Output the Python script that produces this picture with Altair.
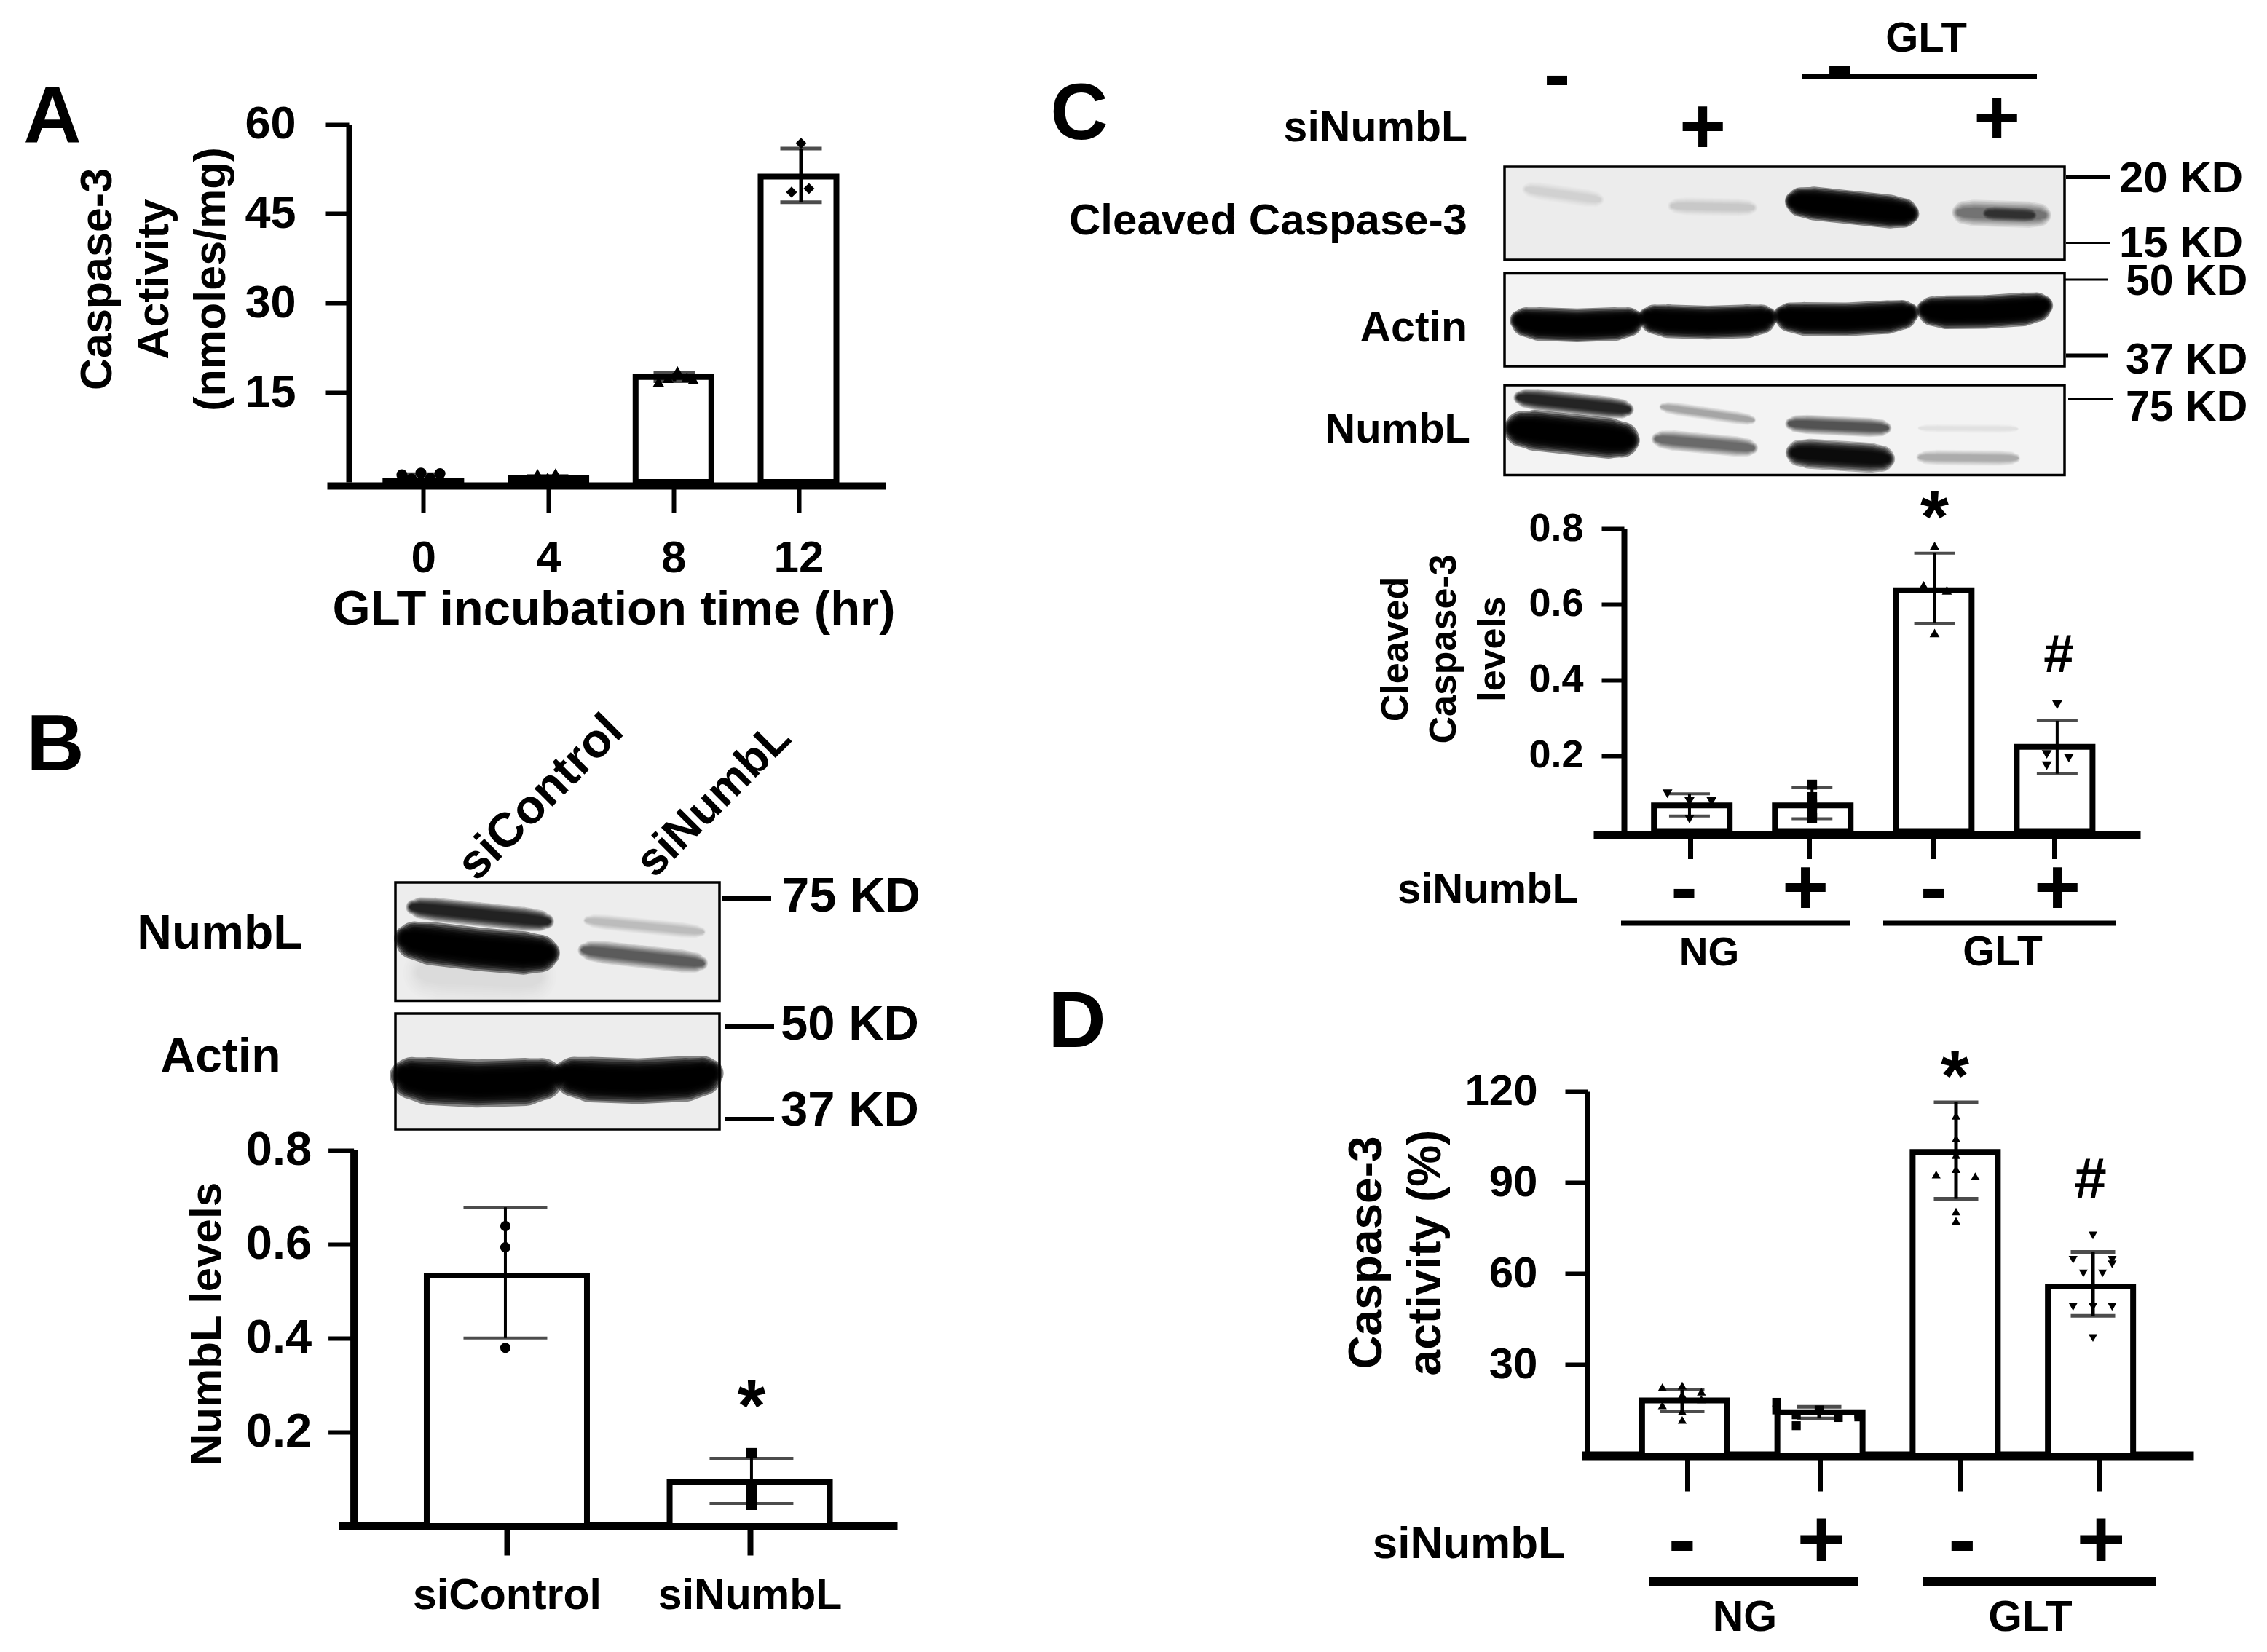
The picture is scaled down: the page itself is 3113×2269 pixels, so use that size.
import altair as alt
import pandas as pd

FONT = "Liberation Sans"
W, H = 3097, 2250
M = 8  # page margin

# ---------- Panel A ----------
A_TIME = [0, 4, 8, 12]
A_MEAN = [0.2, 0.6, 17.6, 51.2]
A_LOW = [0.3, 0.4, 16.9, 46.9]
A_HIGH = [1.3, 1.0, 18.3, 55.9]
A_SHAPE = ["circle", "triangle-up", "triangle-up", "diamond"]
A_PT_G = [0, 0, 0, 0, 0, 1, 1, 1, 2, 2, 2, 2, 2, 3, 3, 3]
A_PT_DX = [-0.6, 0, 0.6, -0.3, 0.3, -0.32, 0.25, 0, -0.5, -0.2, 0.1, 0.4, 0.6, 0, -0.3, 0.25]
A_PT_V = [1.2, 1.5, 1.4, 0.5, 0.6, 1.4, 1.5, 0.8, 16.8, 17.4, 18.6, 17.6, 17.2, 56.8, 48.6, 49.2]

# ---------- Panel B ----------
B_LABEL = ["siControl", "siNumbL"]
B_MEAN = [0.533, 0.093]
B_LOW = [0.40, 0.048]
B_HIGH = [0.678, 0.144]
B_SHAPE = ["circle", "square"]
B_PT_G = [0, 0, 0, 1, 1, 1, 1]
B_PT_DX = [0, 0, 0, 0, 0, 0, 0]
B_PT_V = [0.638, 0.593, 0.379, 0.155, 0.077, 0.057, 0.045]

# ---------- Panel C ----------
C_MEAN = [0.068, 0.068, 0.637, 0.223]
C_LOW = [0.04, 0.033, 0.55, 0.152]
C_HIGH = [0.099, 0.115, 0.735, 0.292]
C_SHAPE = ["triangle-down", "square", "triangle-up", "triangle-down"]
C_TICKS = [-0.015, 0.97, 1.99, 3]
C_PT_G = [0, 0, 0, 0, 1, 1, 1, 1, 1, 2, 2, 2, 2, 3, 3, 3, 3]
C_PT_DX = [-0.18, 0, 0.18, 0, 0, 0, 0, 0, 0, 0, -0.09, 0.1, 0, 0, -0.085, -0.085, 0.095]
C_PT_V = [0.099, 0.078, 0.078, 0.032, 0.123, 0.09, 0.07, 0.05, 0.035, 0.754, 0.65, 0.637, 0.524, 0.334, 0.203, 0.173, 0.193]

# ---------- Panel D ----------
D_MEAN = [18.1, 14.2, 100, 55.7]
D_LOW = [14.5, 12.2, 84.6, 46]
D_HIGH = [21.7, 16, 116.4, 67.1]
D_SHAPE = ["triangle-up", "square", "triangle-up", "triangle-down"]
D_TICKS = [0.02, 1, 2.04, 3.06]
D_PT_G = [0] * 8 + [1] * 8 + [2] * 8 + [3] * 10
D_PT_DX = [-0.145, 0, 0.14, 0.14, 0, -0.145, 0, 0,
           -0.31, -0.31, -0.167, -0.167, 0, 0.14, 0.29, 0.29,
           0, 0, 0, 0, -0.145, 0.14, 0, 0,
           0, -0.145, 0.14, 0.14, -0.07, 0.07, -0.145, 0, 0.14, 0]
D_PT_V = [22.5, 23, 21, 18.5, 20, 16.5, 14.5, 11.7,
          17.5, 15, 9.8, 13.4, 15, 12.5, 13.6, 12.7,
          112, 104.5, 99, 94.4, 92.6, 92, 80.4, 77.3,
          72.5, 64.5, 64.5, 63, 60, 60, 49, 49, 49, 38.7]

# ---------- Blot bands: x0, y0, x1, y1 (% of membrane), thickness, density, sag ----------
B1_BANDS = [(8, 76, 44, 80, 50, 0.06, 0),
            (4.7, 20.7, 47.5, 33.2, 20, 0.85, 0), (2.8, 47, 47.5, 59.7, 36, 0.995, 3),
            (58.7, 32, 95, 42, 13, 0.2, 0), (57.7, 57, 95, 68.5, 19, 0.6, 0)]
B2_BANDS = [(1.9, 53, 48.4, 54, 40, 0.995, 7), (52, 52, 97.8, 51, 38, 0.995, 7)]
C1_BANDS = [(3.8, 24, 17.1, 35.6, 15, 0.1, 0), (29.8, 42, 44.5, 44, 15, 0.13, 0),
            (51.5, 37, 72.6, 50.5, 28, 0.995, 0), (81, 49, 96.5, 52, 22, 0.5, 0),
            (86, 50, 94.4, 52, 12, 0.55, 0)]
C2_BANDS = [(2.4, 50, 23.5, 50, 28, 0.995, 6), (25.3, 47, 47.3, 47, 28, 0.995, 6),
            (49.4, 45, 72.6, 42, 28, 0.995, 6), (75, 39, 96.5, 34, 28, 0.995, 5)]
C3_BANDS = [(2.4, 13.7, 22.3, 27.3, 18, 0.85, 0), (1.7, 47.8, 22.3, 61.4, 34, 0.995, 0),
            (28, 24, 44.5, 39, 11, 0.3, 0), (27, 59.7, 44.5, 70, 17, 0.55, 0),
            (50.8, 42.7, 68.4, 47.8, 16, 0.65, 0), (51.5, 75, 68.4, 82, 25, 0.95, 0),
            (74, 47.8, 91.6, 48.5, 8, 0.07, 0), (74, 80.2, 91.6, 81.2, 13, 0.27, 0)]

layers = []
ONE = alt.Data(values=[{"k": 0}])


def text(s, x, y, size=60, align="center", angle=0, baseline="middle"):
    layers.append(
        alt.Chart(ONE).mark_text(text=s, font=FONT, fontWeight="bold", fontSize=size, color="black",
                                 align=align, baseline=baseline, angle=angle)
        .encode(x=alt.value(x - M), y=alt.value(y - M))
    )


def seg(x0, x1, y, w):
    layers.append(
        alt.Chart(ONE).mark_rule(color="black", strokeWidth=w)
        .encode(x=alt.value(x0 - M), x2=alt.value(x1 - M), y=alt.value(y - M))
    )


def panel(pos, means, lows, highs, shapes, pg, pdx, pv, xdom, xrange, ydom, yrange, yticks, xticks,
          y_pos, bar_w, bar_sw, cap_w, err_w, pt_size, axis_y, dom_w_x, tick_x, tick_w_x, dom_w_y, tick_y,
          lab_size, lab_pad_y, title, title_size, title_lh, title_x, title_y,
          x_expr=None, xlab_size=60, xlab_pad=30, fmt=None):
    xs = alt.Scale(domain=xdom, range=[v - M for v in xrange], nice=False, zero=False)
    ys = alt.Scale(domain=ydom, range=[v - M for v in yrange], nice=False, zero=False)
    df = pd.DataFrame({"pos": pos, "mean": means, "low": lows, "high": highs})
    x_axis = alt.Axis(
        orient="bottom", offset=axis_y - M - H, values=xticks, grid=False, title=None,
        domainColor="black", domainWidth=dom_w_x, tickColor="black", tickWidth=tick_w_x, tickSize=tick_x,
        labels=x_expr is not None, labelFont=FONT, labelFontWeight="bold", labelFontSize=xlab_size,
        labelColor="black", labelPadding=xlab_pad, labelExpr=x_expr or "datum.label", labelOverlap=False,
        labelFlush=False, labelLimit=1000)
    y_kwargs = {"format": fmt} if fmt else {}
    y_axis = alt.Axis(
        orient="left", offset=-(y_pos - M), values=yticks, grid=False, title=title,
        domainColor="black", domainWidth=dom_w_y, tickColor="black", tickWidth=6, tickSize=tick_y,
        labelFont=FONT, labelFontWeight="bold", labelFontSize=lab_size, labelColor="black",
        labelPadding=lab_pad_y, labelOverlap=False, labelFlush=False,
        titleFont=FONT, titleFontWeight="bold", titleFontSize=title_size, titleColor="black",
        titleLineHeight=title_lh, titleBaseline="middle", titleX=title_x - y_pos, titleY=title_y - M,
        titleAngle=270, titleLimit=2000, **y_kwargs)
    base = alt.Chart(df)
    layers.append(base.mark_bar(orient="vertical", size=bar_w - bar_sw, fill="white", stroke="black",
                                strokeWidth=bar_sw)
                  .encode(x=alt.X("pos:Q", scale=xs, axis=x_axis),
                          y=alt.Y("mean:Q", scale=ys, axis=y_axis, stack=None),
                          y2=alt.Y2(datum=0)))
    layers.append(base.mark_rule(color="black", strokeWidth=err_w)
                  .encode(x=alt.X("pos:Q", scale=xs, axis=None), y=alt.Y("low:Q", scale=ys, axis=None),
                          y2="high:Q"))
    for f in ("low", "high"):
        layers.append(base.mark_tick(orient="horizontal", size=cap_w, thickness=err_w, color="black")
                      .encode(x=alt.X("pos:Q", scale=xs, axis=None), y=alt.Y(f + ":Q", scale=ys, axis=None)))
    pts = pd.DataFrame({"x": [pos[g] + d for g, d in zip(pg, pdx)], "v": pv,
                        "shape": [shapes[g] for g in pg]})
    layers.append(alt.Chart(pts).mark_point(filled=True, color="black", opacity=1, size=pt_size)
                  .encode(x=alt.X("x:Q", scale=xs, axis=None), y=alt.Y("v:Q", scale=ys, axis=None),
                          shape=alt.Shape("shape:N", scale=None)))


def blot(x0, x1, y0, y1, bands, fill):
    xs = alt.Scale(domain=[0, 100], range=[x0 - M, x1 - M], nice=False, zero=False)
    ys = alt.Scale(domain=[0, 100], range=[y0 - M, y1 - M], nice=False, zero=False)
    frame = pd.DataFrame({"a": [0], "b": [100]})
    layers.append(alt.Chart(frame).mark_rect(fill=fill, stroke=None)
                  .encode(x=alt.X("a:Q", scale=xs, axis=None), x2="b:Q",
                          y=alt.Y("a:Q", scale=ys, axis=None), y2="b:Q"))
    rows = []
    widths = (1.65, 1.5, 1.35, 1.2, 1.08, 0.96, 0.84, 0.72, 0.6)
    for i, (bx0, by0, bx1, by1, t, dens, sag) in enumerate(bands):
        a = 1 - (1 - dens) ** (1 / len(widths))
        for j, k in enumerate(widths):
            for u, w, bow in ((0, 0.3, 0), (0.02, 0.62, 0.1), (0.07, 0.88, 0.4), (0.18, 1, 0.75), (0.5, 1, 1),
                              (0.82, 1, 0.75), (0.93, 0.88, 0.4), (0.98, 0.62, 0.1), (1, 0.3, 0)):
                rows.append({"id": f"{i:02d}{j}", "x": bx0 + (bx1 - bx0) * u,
                             "y": by0 + (by1 - by0) * u + sag * bow, "w": t * k * w, "a": a})
    layers.append(alt.Chart(pd.DataFrame(rows)).mark_trail(color="black")
                  .encode(x=alt.X("x:Q", scale=xs, axis=None), y=alt.Y("y:Q", scale=ys, axis=None),
                          size=alt.Size("w:Q", scale=None, legend=None),
                          opacity=alt.Opacity("a:Q", scale=None, legend=None),
                          detail="id:N", order="x:Q"))
    layers.append(alt.Chart(frame).mark_rect(fill=None, stroke="black", strokeWidth=3.5)
                  .encode(x=alt.X("a:Q", scale=xs, axis=None), x2="b:Q",
                          y=alt.Y("a:Q", scale=ys, axis=None), y2="b:Q"))


# ---------- A ----------
panel(A_TIME, A_MEAN, A_LOW, A_HIGH, A_SHAPE, A_PT_G, A_PT_DX, A_PT_V,
      [-2.966, 14.667], [449, 1216], [0, 60], [662, 170.5], [15, 30, 45, 60], A_TIME,
      479, 112, 8, 57, 5, 230, 667, 10, 37, 6, 8, 33, 63, 40,
      ["Caspase-3", "Activity", "(nmoles/mg)"], 61, 78, 134, 383,
      x_expr="datum.label", xlab_size=62, xlab_pad=32)
text("A", 72, 162, 110)
text("GLT incubation time (hr)", 843, 838, 67)

# ---------- B ----------
blot(543, 988, 1212, 1374.5, B1_BANDS, "#ededed")
blot(543, 988, 1392, 1551, B2_BANDS, "#ededed")
text("B", 76, 1025, 110)
text("siControl", 640, 1198, 66, "left", 315)
text("siNumbL", 885, 1194, 63, "left", 315)
text("NumbL", 302, 1283, 66)
text("Actin", 303, 1452, 66)
for xa, xb, yy, ww in ((991, 1059, 1234, 6), (995, 1063, 1410, 6), (995, 1063, 1537, 6)):
    seg(xa, xb, yy, ww)
text("75 KD", 1074, 1232, 67, "left")
text("50 KD", 1072, 1408, 67, "left")
text("37 KD", 1072, 1526, 67, "left")

panel([0, 1], B_MEAN, B_LOW, B_HIGH, B_SHAPE, B_PT_G, B_PT_DX, B_PT_V,
      [-0.6775, 1.592], [465, 1232], [0, 0.8], [2096, 1579.5], [0.2, 0.4, 0.6, 0.8], [0, 1],
      485.6, 228, 8, 115, 4, 200, 2096, 11, 40, 8, 10, 35, 65, 23,
      "NumbL levels", 60, 70, 284, 1818,
      x_expr="['siControl','siNumbL'][datum.value]", xlab_size=59, xlab_pad=26, fmt=".1f")
text("*", 1032, 1935, 100)

# ---------- C ----------
blot(2066, 2835, 229, 357, C1_BANDS, "#ececec")
blot(2066, 2835, 375.6, 503, C2_BANDS, "#f3f3f3")
blot(2066, 2835, 529, 652.6, C3_BANDS, "#f3f3f3")
text("C", 1482, 158, 110)
text("GLT", 2645, 54, 58)
seg(2475, 2797, 105, 8)
text("-", 2138, 106, 110)
text("-", 2526, 93, 110)
text("siNumbL", 2015, 176, 59, "right")
text("+", 2338, 178, 110)
text("+", 2742, 166, 110)
text("Cleaved Caspase-3", 2015, 304, 60, "right")
text("Actin", 2015, 451, 59, "right")
text("NumbL", 2019, 591, 58, "right")
for xa, xb, yy, ww in ((2837, 2897, 243, 6), (2837, 2897, 333.5, 3), (2835, 2895, 384, 3),
                       (2837, 2895, 488.5, 6), (2840, 2901, 548, 3)):
    seg(xa, xb, yy, ww)
text("20 KD", 2910, 246, 60, "left")
text("15 KD", 2910, 335, 60, "left")
text("50 KD", 2919, 387, 59, "left")
text("37 KD", 2919, 495, 59, "left")
text("75 KD", 2919, 560, 59, "left")

panel([0, 1, 2, 3], C_MEAN, C_LOW, C_HIGH, C_SHAPE, C_PT_G, C_PT_DX, C_PT_V,
      [-0.784, 3.678], [2188, 2939], [0, 0.8], [1141.6, 726], [0.2, 0.4, 0.6, 0.8], C_TICKS,
      2230, 112, 8, 56, 4, 190, 1147, 11, 32.5, 7, 8, 31, 54, 25,
      ["Cleaved", "Caspase-3", "levels"], 52, 66.5, 1916, 891, fmt=".1f")
text("*", 2656.5, 714, 100)
text("#", 2827, 900, 75)
text("siNumbL", 2167, 1223, 58, "right")
for xp, sg in ((2312.6, "-"), (2479, "+"), (2655, "-"), (2825, "+")):
    text(sg, xp, 1223, 110)
seg(2226, 2541, 1268, 7)
seg(2586, 2906, 1268, 7)
text("NG", 2347, 1309, 55)
text("GLT", 2750, 1309, 57)

# ---------- D ----------
text("D", 1479, 1405, 110)
panel([0, 1, 2, 3], D_MEAN, D_LOW, D_HIGH, D_SHAPE, D_PT_G, D_PT_DX, D_PT_V,
      [-0.734, 3.734], [2172, 3012], [0, 120], [1999, 1499], [30, 60, 90, 120], D_TICKS,
      2180, 125, 8, 61, 5, 150, 1999, 12, 49, 7, 7, 31, 60, 38,
      ["Caspase-3", "activity (%)"], 64, 81, 1877, 1720)
text("*", 2684.5, 1482, 100)
text("#", 2870.5, 1622, 80)
text("siNumbL", 2150, 2121, 62, "right")
for xp, sg in ((2310, "-"), (2501, "+"), (2694.5, "-"), (2885, "+")):
    text(sg, xp, 2118, 115)
seg(2264, 2551, 2172, 12)
seg(2640, 2961, 2172, 12)
text("NG", 2396, 2222, 59)
text("GLT", 2788, 2222, 60)

chart = (
    alt.layer(*layers)
    .resolve_scale(x="independent", y="independent")
    .resolve_axis(x="independent", y="independent")
    .properties(width=W, height=H, padding=0, background="white",
                autosize=alt.AutoSizeParams(type="none"))
    .configure_view(stroke=None)
)
chart.save("out.html", embed_options={"renderer": "svg", "actions": False})
